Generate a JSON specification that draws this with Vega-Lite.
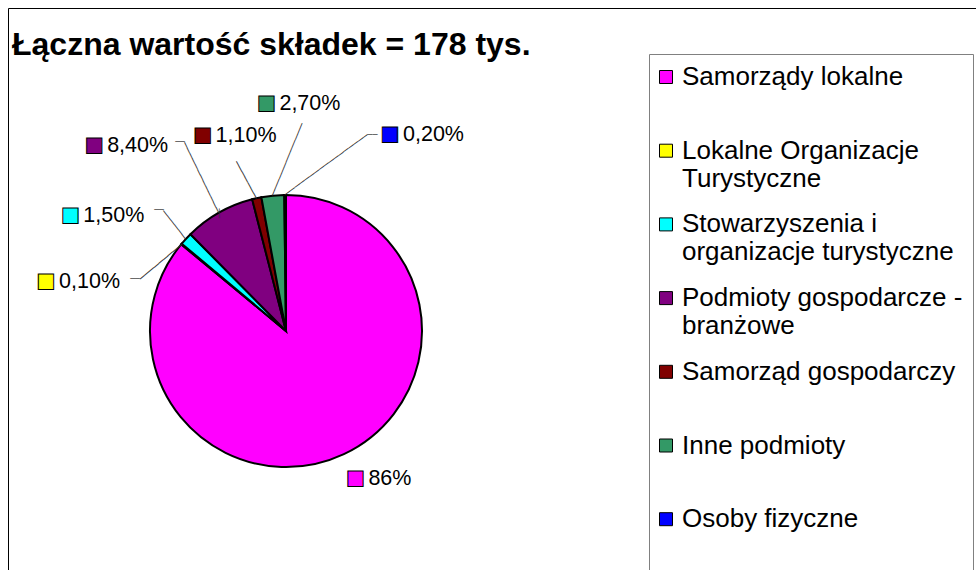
{
  "$schema": "https://vega.github.io/schema/vega-lite/v6.json",
  "autosize": {"type": "none"},
  "padding": {"left": 12, "top": 8, "right": 416, "bottom": 0},
  "width": 548,
  "height": 646,
  "background": "white",
  "title": {
    "text": "Łączna wartość składek = 178 tys.",
    "font": "Liberation Sans",
    "fontSize": 32,
    "fontWeight": "bold",
    "color": "black",
    "anchor": "start",
    "frame": "group",
    "baseline": "alphabetic",
    "offset": 0,
    "dy": 79
  },
  "data": {
    "values": [
      {"kategoria": "Samorządy lokalne", "udzial": 0.86, "kolejnosc": 1},
      {"kategoria": "Lokalne Organizacje Turystyczne", "udzial": 0.001, "kolejnosc": 2},
      {"kategoria": "Stowarzyszenia i organizacje turystyczne", "udzial": 0.015, "kolejnosc": 3},
      {"kategoria": "Podmioty gospodarcze - branżowe", "udzial": 0.084, "kolejnosc": 4},
      {"kategoria": "Samorząd gospodarczy", "udzial": 0.011, "kolejnosc": 5},
      {"kategoria": "Inne podmioty", "udzial": 0.027, "kolejnosc": 6},
      {"kategoria": "Osoby fizyczne", "udzial": 0.002, "kolejnosc": 7}
    ]
  },
  "encoding": {
    "theta": {"field": "udzial", "type": "quantitative", "stack": true},
    "order": {"field": "kolejnosc", "type": "quantitative"}
  },
  "layer": [
    {
      "mark": {"type": "arc", "outerRadius": 136, "stroke": "black", "strokeWidth": 2},
      "encoding": {
        "color": {
          "field": "kategoria",
          "type": "nominal",
          "scale": {
            "domain": ["Samorządy lokalne", "Lokalne Organizacje Turystyczne", "Stowarzyszenia i organizacje turystyczne", "Podmioty gospodarcze - branżowe", "Samorząd gospodarczy", "Inne podmioty", "Osoby fizyczne"],
            "range": ["#FF00FF", "#FFFF00", "#00FFFF", "#800080", "#800000", "#339966", "#0000FF"]
          },
          "legend": {
            "title": null,
            "orient": "none",
            "legendX": 637,
            "legendY": 46,
            "padding": 10,
            "strokeColor": "#808080",
            "symbolType": "square",
            "symbolSize": 169,
            "symbolStrokeColor": "black",
            "symbolStrokeWidth": 1,
            "symbolOpacity": 1,
            "symbolOffset": -6,
            "labelFont": "Liberation Sans",
            "labelFontSize": 26,
            "labelColor": "black",
            "labelLimit": 400,
            "labelOffset": 3,
            "labelBaseline": "middle",
            "labelLineHeight": 31,
            "rowPadding": 19.7,
            "labelExpr": "datum.label === 'Lokalne Organizacje Turystyczne' ? ['Lokalne Organizacje', 'Turystyczne'] : datum.label === 'Stowarzyszenia i organizacje turystyczne' ? ['Stowarzyszenia i', 'organizacje turystyczne'] : datum.label === 'Podmioty gospodarcze - branżowe' ? ['Podmioty gospodarcze -', 'branżowe'] : datum.label === 'Osoby fizyczne' ? [datum.label, '', ''] : [datum.label, '']"
          }
        },
        "opacity": {
          "datum": "ramka",
          "type": "nominal",
          "scale": {"type": "ordinal", "range": [1]},
          "legend": {
            "title": null,
            "orient": "none",
            "legendX": -4,
            "legendY": 0,
            "padding": 700,
            "strokeColor": "black",
            "symbolOpacity": 0,
            "labelOpacity": 0
          }
        },
        "fillOpacity": {
          "datum": "ramka2",
          "type": "nominal",
          "scale": {"type": "ordinal", "range": [1]},
          "legend": {
            "title": null,
            "orient": "none",
            "legendX": -5,
            "legendY": -1,
            "padding": 700,
            "strokeColor": "black",
            "symbolOpacity": 0,
            "labelOpacity": 0
          }
        }
      }
    },
    {
      "mark": {"type": "text", "font": "DejaVu Sans Mono", "fontSize": 10, "align": "left", "baseline": "middle", "radius": 136, "angle": -36.1, "color": "#303030"},
      "encoding": {
        "text": {"condition": {"test": "datum.kategoria === 'Osoby fizyczne'", "value": "─────────────────"}, "value": ""}
      }
    },
    {
      "mark": {"type": "text", "font": "DejaVu Sans Mono", "fontSize": 8, "align": "left", "baseline": "middle", "radius": 136, "dx": 82.7, "dy": -60.3, "color": "#303030"},
      "encoding": {
        "text": {"condition": {"test": "datum.kategoria === 'Osoby fizyczne'", "value": "──"}, "value": ""}
      }
    },
    {
      "mark": {"type": "text", "font": "DejaVu Sans Mono", "fontSize": 10, "align": "left", "baseline": "middle", "radius": 136, "angle": -67.7, "color": "#303030"},
      "encoding": {
        "text": {"condition": {"test": "datum.kategoria === 'Inne podmioty'", "value": "─────────────"}, "value": ""}
      }
    },
    {
      "mark": {"type": "text", "font": "DejaVu Sans Mono", "fontSize": 10, "align": "left", "baseline": "middle", "radius": 136, "angle": -118.4, "color": "#303030"},
      "encoding": {
        "text": {"condition": {"test": "datum.kategoria === 'Samorząd gospodarczy'", "value": "───────"}, "value": ""}
      }
    },
    {
      "mark": {"type": "text", "font": "DejaVu Sans Mono", "fontSize": 8, "align": "left", "baseline": "middle", "radius": 136, "angle": -90, "dx": -20, "dy": -37, "color": "#303030"},
      "encoding": {
        "text": {"condition": {"test": "datum.kategoria === 'Samorząd gospodarczy'", "value": "──"}, "value": ""}
      }
    },
    {
      "mark": {"type": "text", "font": "DejaVu Sans Mono", "fontSize": 10, "align": "left", "baseline": "middle", "radius": 136, "angle": -115.9, "color": "#303030"},
      "encoding": {
        "text": {"condition": {"test": "datum.kategoria === 'Podmioty gospodarcze - branżowe'", "value": "─────────────"}, "value": ""}
      }
    },
    {
      "mark": {"type": "text", "font": "DejaVu Sans Mono", "fontSize": 8, "align": "right", "baseline": "middle", "radius": 136, "dx": -34.2, "dy": -70.4, "color": "#303030"},
      "encoding": {
        "text": {"condition": {"test": "datum.kategoria === 'Podmioty gospodarcze - branżowe'", "value": "──"}, "value": ""}
      }
    },
    {
      "mark": {"type": "text", "font": "DejaVu Sans Mono", "fontSize": 10, "align": "left", "baseline": "middle", "radius": 136, "angle": -127.9, "color": "#303030"},
      "encoding": {
        "text": {"condition": {"test": "datum.kategoria === 'Stowarzyszenia i organizacje turystyczne'", "value": "──────"}, "value": ""}
      }
    },
    {
      "mark": {"type": "text", "font": "DejaVu Sans Mono", "fontSize": 8, "align": "right", "baseline": "middle", "radius": 136, "dx": -22.2, "dy": -28.5, "color": "#303030"},
      "encoding": {
        "text": {"condition": {"test": "datum.kategoria === 'Stowarzyszenia i organizacje turystyczne'", "value": "──"}, "value": ""}
      }
    },
    {
      "mark": {"type": "text", "font": "DejaVu Sans Mono", "fontSize": 10, "align": "left", "baseline": "middle", "radius": 136, "angle": 140.3, "color": "#303030"},
      "encoding": {
        "text": {"condition": {"test": "datum.kategoria === 'Lokalne Organizacje Turystyczne'", "value": "─────────"}, "value": ""}
      }
    },
    {
      "mark": {"type": "text", "font": "DejaVu Sans Mono", "fontSize": 8, "align": "right", "baseline": "middle", "radius": 136, "dx": -41.7, "dy": 34.6, "color": "#303030"},
      "encoding": {
        "text": {"condition": {"test": "datum.kategoria === 'Lokalne Organizacje Turystyczne'", "value": "──"}, "value": ""}
      }
    },
    {
      "mark": {"type": "text", "font": "DejaVu Sans", "fontSize": 20, "stroke": "black", "strokeWidth": 1, "align": "center", "baseline": "middle", "radius": 163},
      "encoding": {
        "text": {"condition": {"test": "datum.kategoria === 'Samorządy lokalne'", "value": "■"}, "value": ""},
        "color": {"field": "kategoria", "type": "nominal", "legend": null}
      }
    },
    {
      "mark": {"type": "text", "font": "Liberation Sans", "fontSize": 21.5, "align": "left", "baseline": "alphabetic", "radius": 163, "dx": 13, "dy": 7, "color": "black"},
      "encoding": {
        "text": {"condition": {"test": "datum.kategoria === 'Samorządy lokalne'", "field": "udzial", "type": "quantitative", "format": ".0%"}, "value": ""}
      }
    },
    {
      "mark": {"type": "text", "font": "DejaVu Sans", "fontSize": 20, "stroke": "black", "strokeWidth": 1, "align": "center", "baseline": "middle", "radius": 160, "dx": -117, "dy": 52},
      "encoding": {
        "text": {"condition": {"test": "datum.kategoria === 'Lokalne Organizacje Turystyczne'", "value": "■"}, "value": ""},
        "color": {"field": "kategoria", "type": "nominal", "legend": null}
      }
    },
    {
      "mark": {"type": "text", "font": "Liberation Sans", "fontSize": 21.5, "align": "left", "baseline": "alphabetic", "radius": 160, "dx": -104, "dy": 59, "color": "black"},
      "encoding": {
        "text": {"condition": {"test": "datum.kategoria === 'Lokalne Organizacje Turystyczne'", "field": "udzial", "type": "quantitative", "format": ".2%"}, "value": ""}
      }
    },
    {
      "mark": {"type": "text", "font": "DejaVu Sans", "fontSize": 20, "stroke": "black", "strokeWidth": 1, "align": "center", "baseline": "middle", "radius": 160, "dx": -98, "dy": -8},
      "encoding": {
        "text": {"condition": {"test": "datum.kategoria === 'Stowarzyszenia i organizacje turystyczne'", "value": "■"}, "value": ""},
        "color": {"field": "kategoria", "type": "nominal", "legend": null}
      }
    },
    {
      "mark": {"type": "text", "font": "Liberation Sans", "fontSize": 21.5, "align": "left", "baseline": "alphabetic", "radius": 160, "dx": -85, "dy": -1, "color": "black"},
      "encoding": {
        "text": {"condition": {"test": "datum.kategoria === 'Stowarzyszenia i organizacje turystyczne'", "field": "udzial", "type": "quantitative", "format": ".2%"}, "value": ""}
      }
    },
    {
      "mark": {"type": "text", "font": "DejaVu Sans", "fontSize": 20, "stroke": "black", "strokeWidth": 1, "align": "center", "baseline": "middle", "radius": 160, "dx": -113, "dy": -47},
      "encoding": {
        "text": {"condition": {"test": "datum.kategoria === 'Podmioty gospodarcze - branżowe'", "value": "■"}, "value": ""},
        "color": {"field": "kategoria", "type": "nominal", "legend": null}
      }
    },
    {
      "mark": {"type": "text", "font": "Liberation Sans", "fontSize": 21.5, "align": "left", "baseline": "alphabetic", "radius": 160, "dx": -100, "dy": -40, "color": "black"},
      "encoding": {
        "text": {"condition": {"test": "datum.kategoria === 'Podmioty gospodarcze - branżowe'", "field": "udzial", "type": "quantitative", "format": ".2%"}, "value": ""}
      }
    },
    {
      "mark": {"type": "text", "font": "DejaVu Sans", "fontSize": 20, "stroke": "black", "strokeWidth": 1, "align": "center", "baseline": "middle", "radius": 160, "dx": -49, "dy": -40},
      "encoding": {
        "text": {"condition": {"test": "datum.kategoria === 'Samorząd gospodarczy'", "value": "■"}, "value": ""},
        "color": {"field": "kategoria", "type": "nominal", "legend": null}
      }
    },
    {
      "mark": {"type": "text", "font": "Liberation Sans", "fontSize": 21.5, "align": "left", "baseline": "alphabetic", "radius": 160, "dx": -36, "dy": -33, "color": "black"},
      "encoding": {
        "text": {"condition": {"test": "datum.kategoria === 'Samorząd gospodarczy'", "field": "udzial", "type": "quantitative", "format": ".2%"}, "value": ""}
      }
    },
    {
      "mark": {"type": "text", "font": "DejaVu Sans", "fontSize": 20, "stroke": "black", "strokeWidth": 1, "align": "center", "baseline": "middle", "radius": 160, "dx": -4, "dy": -69},
      "encoding": {
        "text": {"condition": {"test": "datum.kategoria === 'Inne podmioty'", "value": "■"}, "value": ""},
        "color": {"field": "kategoria", "type": "nominal", "legend": null}
      }
    },
    {
      "mark": {"type": "text", "font": "Liberation Sans", "fontSize": 21.5, "align": "left", "baseline": "alphabetic", "radius": 160, "dx": 9, "dy": -62, "color": "black"},
      "encoding": {
        "text": {"condition": {"test": "datum.kategoria === 'Inne podmioty'", "field": "udzial", "type": "quantitative", "format": ".2%"}, "value": ""}
      }
    },
    {
      "mark": {"type": "text", "font": "DejaVu Sans", "fontSize": 20, "stroke": "black", "strokeWidth": 1, "align": "center", "baseline": "middle", "radius": 160, "dx": 105, "dy": -37},
      "encoding": {
        "text": {"condition": {"test": "datum.kategoria === 'Osoby fizyczne'", "value": "■"}, "value": ""},
        "color": {"field": "kategoria", "type": "nominal", "legend": null}
      }
    },
    {
      "mark": {"type": "text", "font": "Liberation Sans", "fontSize": 21.5, "align": "left", "baseline": "alphabetic", "radius": 160, "dx": 118, "dy": -30, "color": "black"},
      "encoding": {
        "text": {"condition": {"test": "datum.kategoria === 'Osoby fizyczne'", "field": "udzial", "type": "quantitative", "format": ".2%"}, "value": ""}
      }
    }
  ],
  "config": {
    "view": {"stroke": null},
    "locale": {"number": {"decimal": ",", "thousands": " ", "grouping": [3], "currency": ["", " zł"]}}
  }
}
